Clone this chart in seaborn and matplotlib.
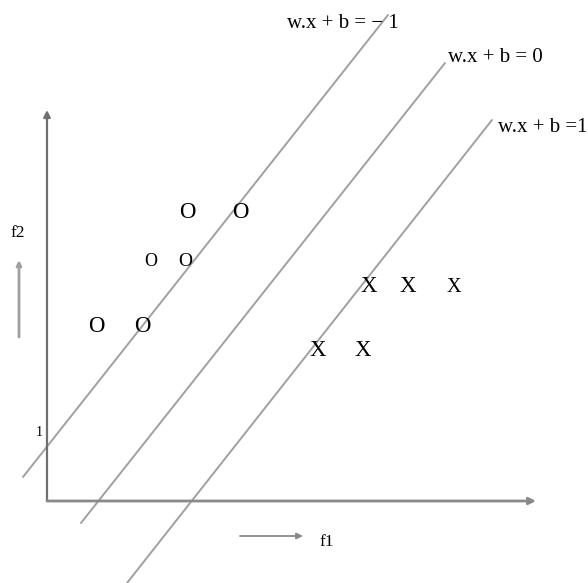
import matplotlib
matplotlib.use("Agg")
import matplotlib.pyplot as plt
import seaborn as sns
import pandas as pd

sns.set_theme(style="white")
plt.rcParams['font.family'] = ['Liberation Serif', 'DejaVu Serif']

# Hyperplanes (endpoints, origin at axis corner)
line_labels = ["w.x + b = \u2212 1", "w.x + b = 0", "w.x + b =1"]
line_x0 = [-24, 34, 80]
line_y0 = [24, -22, -82]
line_x1 = [341, 398, 445]
line_y1 = [486, 438, 381]
label_x = [240, 401, 451]
label_y = [478, 443, 373]

# Class O points
o_x = [140, 193, 49, 95, 104, 138]
o_y = [289, 289, 175, 175, 239, 239]
o_size = [16.5, 16.5, 16.5, 16.5, 13, 14]

# Class X points
x_x = [322, 361, 271, 316, 407]
x_y = [214, 214, 151, 151, 214]
x_size = [16.5, 16.5, 16.5, 16.5, 14.5]

fig = plt.figure(figsize=(5.88, 5.83), dpi=100)
ax = fig.add_axes([0, 0, 1, 1])
ax.set_xlim(-47, 541)
ax.set_ylim(-82, 501)
ax.axis("off")

lines_df = pd.DataFrame({
    "x": line_x0 + line_x1,
    "y": line_y0 + line_y1,
    "line": line_labels + line_labels,
})
sns.lineplot(data=lines_df, x="x", y="y", units="line", estimator=None,
             color="#a0a0a0", lw=1.4, sort=False, ax=ax, legend=False)

for t, lx, ly in zip(line_labels, label_x, label_y):
    ax.text(lx, ly, t, fontsize=15, ha="left", va="center", color="black")

for xx, yy, s in zip(o_x, o_y, o_size):
    ax.text(xx, yy, "O", fontsize=s, ha="center", va="center", color="black")
for xx, yy, s in zip(x_x, x_y, x_size):
    ax.text(xx, yy, "X", fontsize=s, ha="center", va="center", color="black")

# axes with arrows
ax.annotate("", xy=(0, 391), xytext=(0, 0),
            arrowprops=dict(arrowstyle="-|>", color="#6f6f6f", lw=1.6,
                            mutation_scale=10, shrinkA=0, shrinkB=0))
ax.annotate("", xy=(489, 0), xytext=(0, 0),
            arrowprops=dict(arrowstyle="-|>", color="#8a8a8a", lw=2.0,
                            mutation_scale=10, shrinkA=0, shrinkB=0))

ax.text(-4, 68, "1", fontsize=10, ha="right", va="center", color="black")

# f2 and f1 indicators
ax.annotate("", xy=(-28, 241), xytext=(-28, 164),
            arrowprops=dict(arrowstyle="-|>", color="#a0a0a0", lw=2.0,
                            mutation_scale=7, shrinkA=0, shrinkB=0))
ax.text(-29, 268, "f2", fontsize=12.5, ha="center", va="center", color="black")
ax.annotate("", xy=(256, -35), xytext=(193, -35),
            arrowprops=dict(arrowstyle="-|>", color="#8a8a8a", lw=1.3,
                            mutation_scale=9, shrinkA=0, shrinkB=0))
ax.text(273, -41, "f1", fontsize=12.5, ha="left", va="center", color="black")

fig.savefig("out.png", dpi=100)
